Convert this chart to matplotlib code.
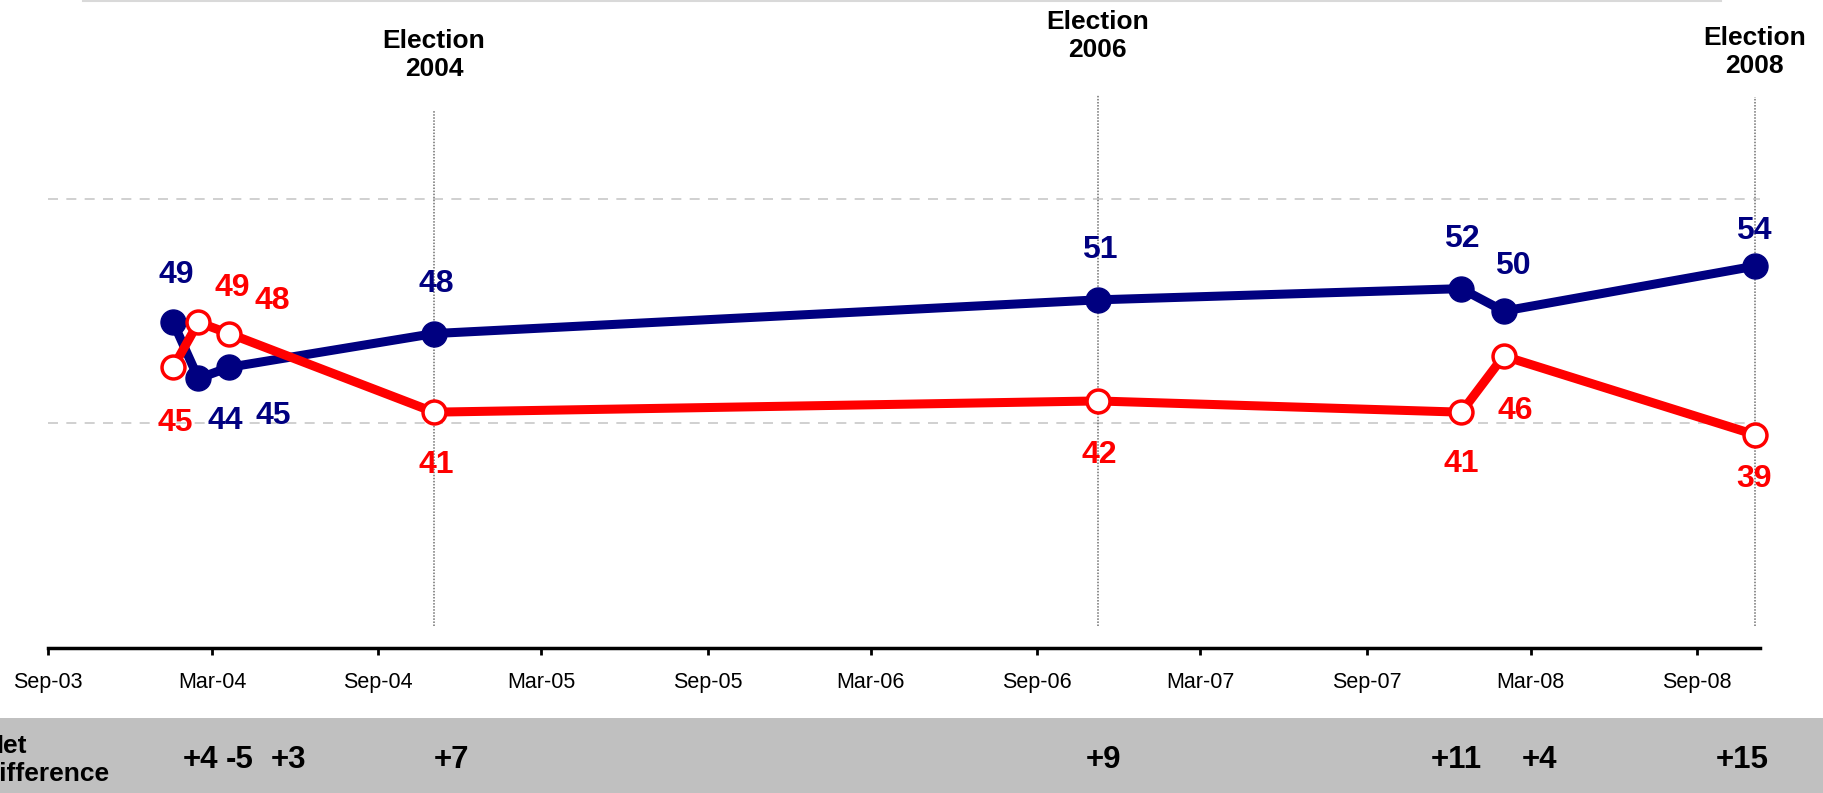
import matplotlib
matplotlib.use('Agg')
import matplotlib.pyplot as plt
import matplotlib.dates as mdates
from matplotlib.patches import Rectangle
from matplotlib.lines import Line2D
import pandas as pd

plt.rcParams['font.family'] = ['Liberation Sans', 'DejaVu Sans']

# Poll dates and values
dates = pd.to_datetime(['2004-01-18', '2004-02-15', '2004-03-20', '2004-11-02',
                        '2006-11-07', '2007-12-15', '2008-01-31', '2008-11-04'])
dem = [49, 44, 45, 48, 51, 52, 50, 54]
rep = [45, 49, 48, 41, 42, 41, 46, 39]
net_labels = ['+4', '-5', '+3', '+7', '+9', '+11', '+4', '+15']

elections = pd.to_datetime(['2004-11-02', '2006-11-07', '2008-11-04'])
election_labels = ['Election\n2004', 'Election\n2006', 'Election\n2008']

tick_dates = pd.date_range('2003-09-01', '2008-09-01', freq='6MS')

navy = '#000080'
red = '#FF0000'

fig = plt.figure(figsize=(18.24, 7.93), dpi=100)
ax = fig.add_axes([0.02615, 1 - 648 / 793, 0.9388, 50 * 11.23 / 793])

# gray band for net difference
fig.patches.append(Rectangle((0, 0), 1, 75 / 793, transform=fig.transFigure,
                             facecolor='#C0C0C0', edgecolor='none', zorder=-1))
fig.lines.append(Line2D([83 / 1824, 1721 / 1824], [792 / 793, 792 / 793],
                        transform=fig.transFigure, color='#d9d9d9', lw=1.5))
fig.text(-16 / 1824, 1 - 760 / 793, 'Net\ndifference', fontsize=19, fontweight='bold',
         ha='left', va='center', linespacing=1.25)

ax.set_xlim(pd.Timestamp('2003-09-01'), pd.Timestamp('2008-11-10'))
ax.set_ylim(20, 70)

# gridlines
for g in [40, 60]:
    ax.axhline(g, color='#c8c8c8', lw=1.2, ls=(0, (6, 5)), zorder=1)

# election lines and labels
label_y = [72.8, 74.5, 73.1]
line_top = [67.9, 69.2, 69.1]
for d, lab, ly, lt in zip(elections, election_labels, label_y, line_top):
    ax.vlines(d, 22.0, lt, color='#707070', lw=1.1, ls=(0, (1, 1)), zorder=1)
    ax.text(d, ly, lab, ha='center', va='center', fontsize=19, fontweight='bold',
            linespacing=1.2, clip_on=False)

ax.plot(dates, dem, color=navy, lw=6.5, marker='o', ms=18, mfc=navy, mec=navy,
        zorder=3, clip_on=False)
ax.plot(dates, rep, color=red, lw=6.5, marker='o', ms=16.5, mfc='white', mec=red,
        mew=2.5, zorder=4, clip_on=False)

# value labels (pixel offsets)
dem_off = [(3, 47), (27, -43), (44, -49), (2, 50), (2, 50), (0, 50), (9, 45), (-1, 35)]
rep_off = [(2, -56), (34, 34), (43, 33), (2, -53), (2, -54), (0, -52), (12, -55), (-1, -44)]
for d, v, o in zip(dates, dem, dem_off):
    ax.annotate(str(v), (d, v), xytext=o, textcoords='offset pixels', ha='center',
                va='center', color=navy, fontsize=23, fontweight='bold')
for d, v, o in zip(dates, rep, rep_off):
    ax.annotate(str(v), (d, v), xytext=o, textcoords='offset pixels', ha='center',
                va='center', color=red, fontsize=23, fontweight='bold')

# net differences in the band
net_dx = [27, 41, 59, 17, 6, -5, 36, -12]
for d, lab, dx in zip(dates, net_labels, net_dx):
    ax.annotate(lab, (d, 20), xytext=(dx, -112), textcoords='offset pixels',
                ha='center', va='center', fontsize=22.5, fontweight='bold',
                annotation_clip=False)

ax.set_xticks(tick_dates)
ax.xaxis.set_major_formatter(mdates.DateFormatter('%b-%y'))
ax.tick_params(axis='x', length=5, width=2, labelsize=15.5, pad=12, direction='out')
ax.set_yticks([])
for s in ['top', 'right', 'left']:
    ax.spines[s].set_visible(False)
ax.spines['bottom'].set_linewidth(2.5)
ax.patch.set_alpha(0)

fig.savefig('out.png', dpi=100)
